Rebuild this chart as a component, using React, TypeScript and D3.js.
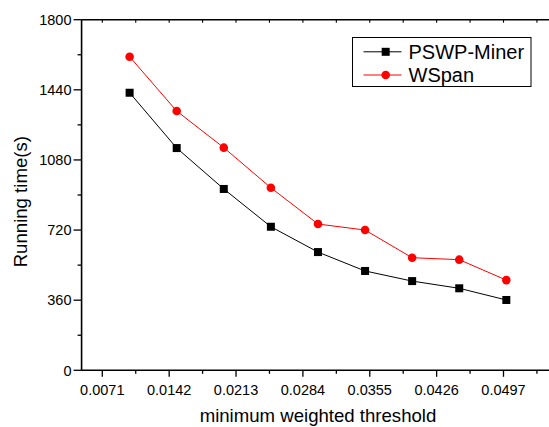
import React from "react";
import * as d3 from "d3";

const thresholds = [0.01, 0.015, 0.02, 0.025, 0.03, 0.035, 0.04, 0.045, 0.05];
const pswpMiner = [1425, 1141, 931, 737, 607, 510, 458, 421, 361];
const wSpan = [1610, 1331, 1143, 937, 751, 720, 578, 568, 463];
const xTickValues = [0.0071, 0.0142, 0.0213, 0.0284, 0.0355, 0.0426, 0.0497];
const xTickLabels = ["0.0071", "0.0142", "0.0213", "0.0284", "0.0355", "0.0426", "0.0497"];
const yTickValues = [0, 360, 720, 1080, 1440, 1800];
const seriesNames = ["PSWP-Miner", "WSpan"];

const W = 549;
const H = 427;
const FONT = "'Liberation Sans', Arial, sans-serif";

export default function App() {
  const x = d3.scaleLinear().domain([0.0071, 0.0497]).range([102.3, 503.5]);
  const y = d3.scaleLinear().domain([0, 1800]).range([370.3, 19.7]);
  const xLeft = x(0.0049);
  const xRight = x(0.0575);
  const yTop = y(1800);
  const yBot = y(0);

  const xMinor = d3.range(0, 8).map((k) => 0.0071 * (k + 0.5)).filter((v) => x(v) > xLeft + 1);
  const xMajorAll = d3.range(1, 9).map((k) => 0.0071 * k);
  const yMinor = d3.range(0, 10).map((k) => 180 * k + 180).filter((v) => v < 1800 && v % 360 !== 0);

  const line = d3
    .line<number>()
    .x((_, i) => x(thresholds[i]))
    .y((d) => y(d));

  const sq = 8;
  const cr = 4.3;

  const legX = 352.5;
  const legY = 37.5;
  const legW = 178.5;
  const legH = 49;

  return (
    <svg
      width={W}
      height={H}
      style={{ position: "absolute", left: 0, top: 0, background: "#fff" }}
    >
      <rect x={0} y={0} width={W} height={H} fill="#fff" />
      {/* frame */}
      <line x1={xLeft} x2={xRight} y1={yBot} y2={yBot} stroke="#000" strokeWidth={1.6} />
      <line x1={xLeft} x2={xRight} y1={yTop} y2={yTop} stroke="#000" strokeWidth={1.6} />
      <line x1={xLeft} x2={xLeft} y1={yTop} y2={yBot} stroke="#000" strokeWidth={1.6} />

      {/* x ticks bottom */}
      {xMajorAll.map((v, i) => (
        <line key={"xb" + i} x1={x(v)} x2={x(v)} y1={yBot} y2={yBot + 6.5} stroke="#000" strokeWidth={1.3} />
      ))}
      {xMinor.map((v, i) => (
        <line key={"xbm" + i} x1={x(v)} x2={x(v)} y1={yBot} y2={yBot + 3.5} stroke="#000" strokeWidth={1.3} />
      ))}
      {/* x ticks top */}
      {xMajorAll.concat(xMinor).map((v, i) => (
        <line key={"xt" + i} x1={x(v)} x2={x(v)} y1={yTop} y2={yTop + 3} stroke="#000" strokeWidth={1.1} />
      ))}
      {xTickValues.map((v, i) => (
        <text
          key={"xl" + i}
          x={x(v)}
          y={395}
          textAnchor="middle"
          fontFamily={FONT}
          fontSize={14.5}
          fill="#000"
        >
          {xTickLabels[i]}
        </text>
      ))}

      {/* y ticks */}
      {yTickValues.map((v, i) => (
        <line key={"yt" + i} x1={xLeft - 8} x2={xLeft} y1={y(v)} y2={y(v)} stroke="#000" strokeWidth={1.3} />
      ))}
      {yMinor.map((v, i) => (
        <line key={"ym" + i} x1={xLeft - 4} x2={xLeft} y1={y(v)} y2={y(v)} stroke="#000" strokeWidth={1.3} />
      ))}
      {yTickValues.map((v, i) => (
        <text
          key={"yl" + i}
          x={71.5}
          y={y(v) + 5.2}
          textAnchor="end"
          fontFamily={FONT}
          fontSize={14.5}
          fill="#000"
        >
          {v}
        </text>
      ))}

      {/* axis titles */}
      <text x={318} y={422} textAnchor="middle" fontFamily={FONT} fontSize={18.6} fill="#000">
        minimum weighted threshold
      </text>
      <text
        transform={`translate(26.5, 201.7) rotate(-90)`}
        textAnchor="middle"
        fontFamily={FONT}
        fontSize={18.6}
        fill="#000"
      >
        Running time(s)
      </text>

      {/* series */}
      <path d={line(pswpMiner) || ""} fill="none" stroke="#000" strokeWidth={1} />
      <path d={line(wSpan) || ""} fill="none" stroke="#ff0000" strokeWidth={1} />
      {pswpMiner.map((v, i) => (
        <rect key={"p" + i} x={x(thresholds[i]) - sq / 2} y={y(v) - sq / 2} width={sq} height={sq} fill="#000" />
      ))}
      {wSpan.map((v, i) => (
        <circle key={"w" + i} cx={x(thresholds[i])} cy={y(v)} r={cr} fill="#ff0000" />
      ))}

      {/* legend */}
      <rect x={legX} y={legY} width={legW} height={legH} fill="#fff" stroke="#000" strokeWidth={1} />
      <line x1={363.5} x2={401.5} y1={51.8} y2={51.8} stroke="#000" strokeWidth={1} />
      <rect x={385.7 - sq / 2} y={51.8 - sq / 2} width={sq} height={sq} fill="#000" />
      <text x={408.5} y={59} fontFamily={FONT} fontSize={20} fill="#000">
        {seriesNames[0]}
      </text>
      <line x1={363.5} x2={401.5} y1={75} y2={75} stroke="#ff0000" strokeWidth={1} />
      <circle cx={385.7} cy={75} r={cr} fill="#ff0000" />
      <text x={408.5} y={82.2} fontFamily={FONT} fontSize={20} fill="#000">
        {seriesNames[1]}
      </text>
    </svg>
  );
}
